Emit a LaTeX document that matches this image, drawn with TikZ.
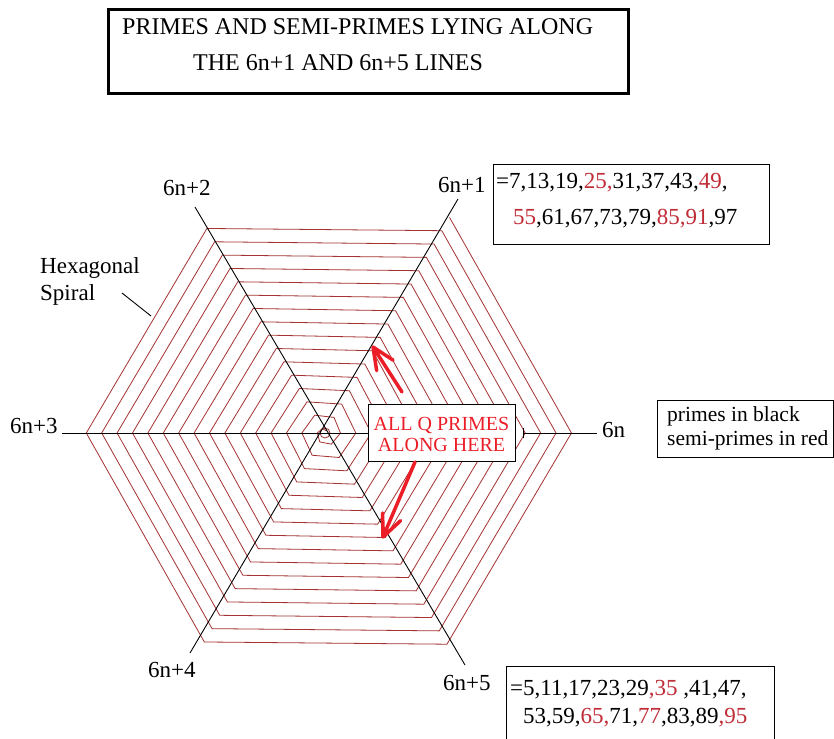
\documentclass[tikz,border=0pt]{standalone}
\usepackage{fontspec}
\setmainfont{Liberation Serif}
\usetikzlibrary{arrows.meta,calc}
\definecolor{spiralred}{RGB}{165,50,50}
\definecolor{numred}{RGB}{192,45,55}
\definecolor{brightred}{RGB}{235,30,40}
\begin{document}
\begin{tikzpicture}[x=1pt,y=-1pt,
  txt/.style={inner sep=0pt,anchor=base west,font=\fontsize{23}{27}\selectfont},
  ttl/.style={inner sep=0pt,anchor=base west,font=\fontsize{24}{28}\selectfont},
  lgd/.style={inner sep=0pt,anchor=base west,font=\fontsize{21.5}{24}\selectfont},
  qtxt/.style={inner sep=0pt,anchor=base,text=brightred,font=\fontsize{20}{22}\selectfont},
  boxx/.style={draw,line width=1pt,inner sep=0pt,anchor=north west},
  spiralline/.style={draw=spiralred,line width=0.8pt},
  ray/.style={draw=black,line width=0.9pt},
  qline/.style={draw=brightred,line width=3.5pt,line cap=round,line join=round}
]
\useasboundingbox (0,0) rectangle (834,738);
\clip (0,0) rectangle (834,738);
\fill[white] (0,0) rectangle (834,738);

% title
\node[boxx,line width=3pt,minimum width=520,minimum height=84] (title) at (107,8) {};
\node[ttl] (t1) at (122,35) {PRIMES AND SEMI-PRIMES LYING ALONG};
\node[ttl] (t2) at (193,71) {THE 6n+1 AND 6n+5 LINES};

% centre and ray ends
\coordinate (O) at (325,433);
\coordinate (r2) at (195,207);
\coordinate (r5) at (465,665);
\coordinate (r1) at (458,199);
\coordinate (r4) at (190,653);
\coordinate (r3) at (62,433);
\coordinate (r0a) at (523,433);
\coordinate (r0b) at (597,433);

% spiral
\begin{scope}[shift={(325,433)}]
\draw[spiralline] (300:2.6) \foreach \k in {1,...,96}{ -- ({300-60*\k}:{2.6+\k*15.4/6}) };
\end{scope}
\draw[spiralline] (O) circle[radius=5];

% rays
\draw[ray] (r2) -- (r5);
\draw[ray] (r1) -- (r4);

% ALL Q box
\node[boxx,fill=white,line width=1pt,minimum width=147,minimum height=57] (Q) at (368,404) {};
\node[qtxt] (q1) at (441.5,430) {ALL Q PRIMES};
\node[qtxt] (q2) at (441.5,451) {ALONG HERE};
\draw[ray] (r3) -- (r3 -| Q.west);
\draw[ray,{Bar[width=10pt]}-] (r0a) -- (r0b);

% arrows
\coordinate (a1s) at (402,392);
\coordinate (a1e) at (373,347);
\coordinate (a2s) at (415,462);
\coordinate (a2e) at (383,537);
\draw[qline] (a1s) -- (a1e) -- ($(a1e)!24pt!24:(a1s)$)
  (a1e) -- ($(a1e)!24pt!-24:(a1s)$);
\draw[qline] (a2s) -- (a2e) -- ($(a2e)!24pt!24:(a2s)$)
  (a2e) -- ($(a2e)!24pt!-24:(a2s)$);

% ray labels
\node[txt] (l2) at (163,195) {6n+2};
\node[txt] (l1) at (438,192) {6n+1};
\node[txt] (l3) at (10,433) {6n+3};
\node[txt] (l0) at (602,437) {6n};
\node[txt] (l4) at (148,677) {6n+4};
\node[txt] (l5) at (443,690) {6n+5};

% hexagonal spiral label
\node[txt] (h1) at (40,273) {Hexagonal};
\node[txt] (h2) at (40,300) {Spiral};
\coordinate (hs1) at (122,293);
\coordinate (hs2) at (151,316);
\draw[ray] (hs1) -- (hs2);

% 6n+1 box
\node[boxx,minimum width=276,minimum height=80] (B1) at (493,164) {};
\node[txt] (b11) at (496,188) {=7,13,19,\textcolor{numred}{25,}31,37,43,\textcolor{numred}{49},};
\node[txt] (b12) at (513,224) {\textcolor{numred}{55},61,67,73,79,\textcolor{numred}{85,91},97};

% 6n+5 box
\node[boxx,minimum width=268,minimum height=90] (B5) at (506,666) {};
\node[txt] (b51) at (510,695) {=5,11,17,23,29\textcolor{numred}{,35} ,41,47,};
\node[txt] (b52) at (523,723) {53,59,\textcolor{numred}{65,}71,\textcolor{numred}{77},83,89\textcolor{numred}{,95}};

% legend
\node[boxx,minimum width=176,minimum height=57] (L) at (657,400) {};
\node[lgd] (g1) at (667,421) {primes in black};
\node[lgd] (g2) at (667,445) {semi-primes in red};
\end{tikzpicture}
\end{document}
